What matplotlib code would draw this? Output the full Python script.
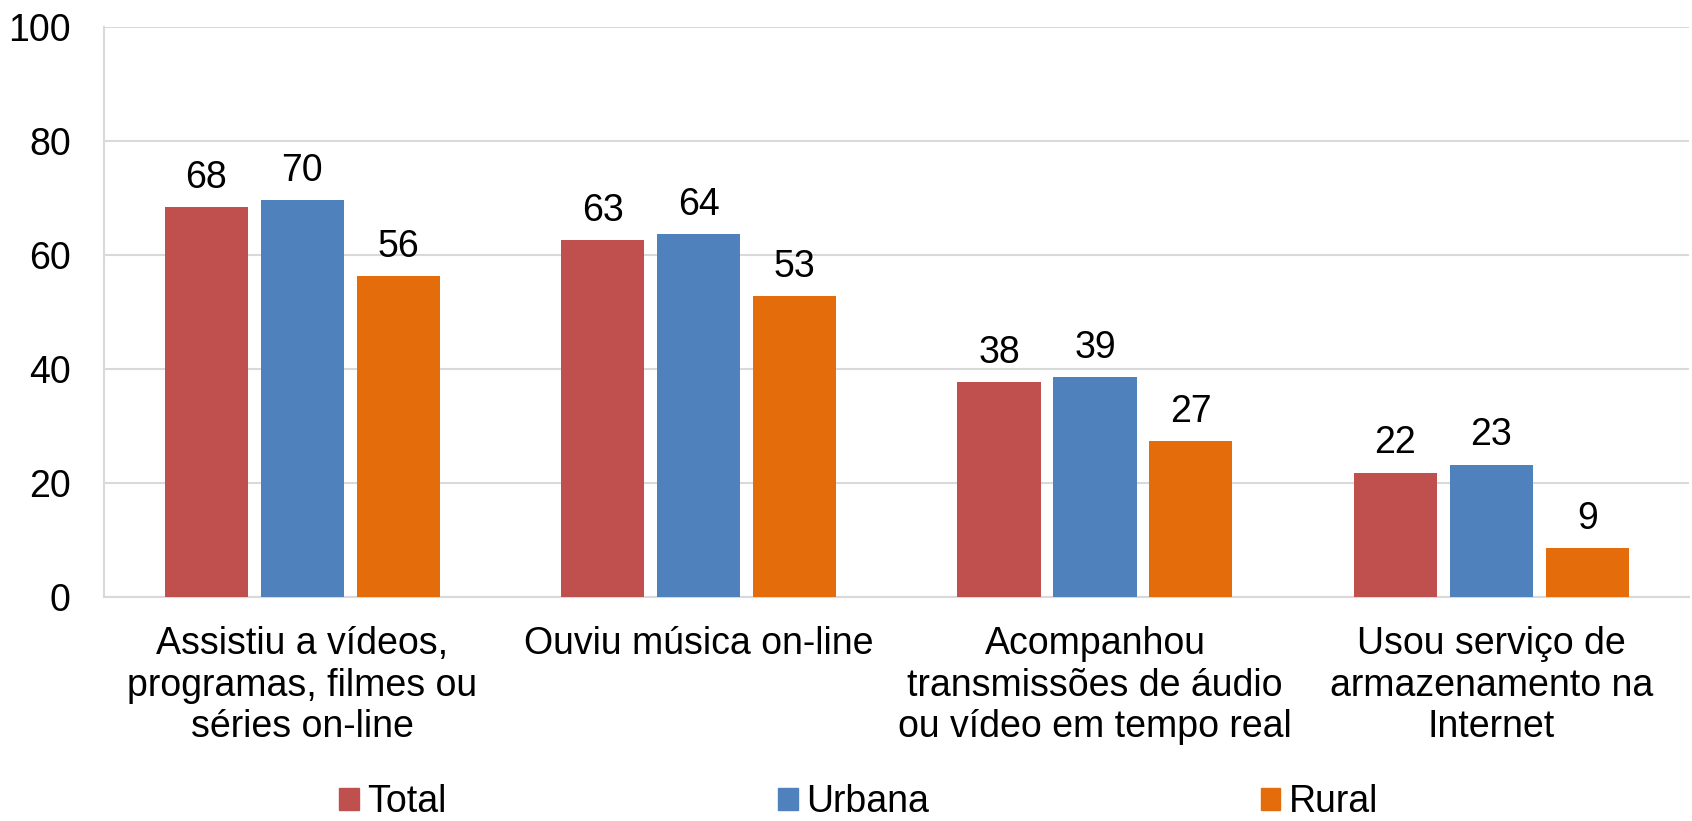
import numpy as np
import matplotlib.pyplot as plt
from matplotlib.patches import Patch

plt.rcParams['font.family'] = ['Liberation Sans', 'DejaVu Sans']

categories = ['Assistiu a vídeos,\nprogramas, filmes ou\nséries on-line',
              'Ouviu música on-line',
              'Acompanhou\ntransmissões de áudio\nou vídeo em tempo real',
              'Usou serviço de\narmazenamento na\nInternet']
total = [68.3, 62.6, 37.6, 21.8]
urbana = [69.6, 63.6, 38.6, 23.2]
rural = [56.3, 52.7, 27.4, 8.6]
series_names = ['Total', 'Urbana', 'Rural']
colors = ['#C0504D', '#4F81BD', '#E46C0A']

fs = 27

fig = plt.figure(figsize=(16.92, 8.21), dpi=100)
ax = fig.add_axes([0.0615, 0.273, 0.937, 0.6945])

x = np.arange(len(categories))
w = 0.21
step = 0.242
for i, (vals, name, c) in enumerate(zip([total, urbana, rural], series_names, colors)):
    bars = ax.bar(x + (i - 1) * step, vals, w, color=c, label=name, zorder=3)
    ax.bar_label(bars, labels=[f'{v:.0f}' for v in vals], padding=8, fontsize=fs)

ax.set_xlim(-0.5, 3.5)
ax.set_ylim(0, 100)
ax.set_yticks([0, 20, 40, 60, 80, 100])
ax.set_xticks(x)
ax.set_xticklabels(categories, fontsize=fs)
ax.tick_params(axis='y', length=0, pad=24, labelsize=fs)
ax.tick_params(axis='x', length=0, pad=21)
ax.grid(axis='y', color='#D9D9D9', linewidth=1.5, zorder=0)
for s in ['top', 'right']:
    ax.spines[s].set_visible(False)
for s in ['left', 'bottom']:
    ax.spines[s].set_color('#D9D9D9')
    ax.spines[s].set_linewidth(1.5)
    ax.spines[s].set_zorder(1)

handles = [Patch(color=c) for c in colors]
fig.legend(handles, series_names, loc='center', bbox_to_anchor=(0.5075, 0.023),
           ncol=3, frameon=False, fontsize=fs, handlelength=0.52, handleheight=0.52,
           handletextpad=0.22, columnspacing=8.85, borderaxespad=0, borderpad=0)

fig.savefig('out.png', dpi=100)
